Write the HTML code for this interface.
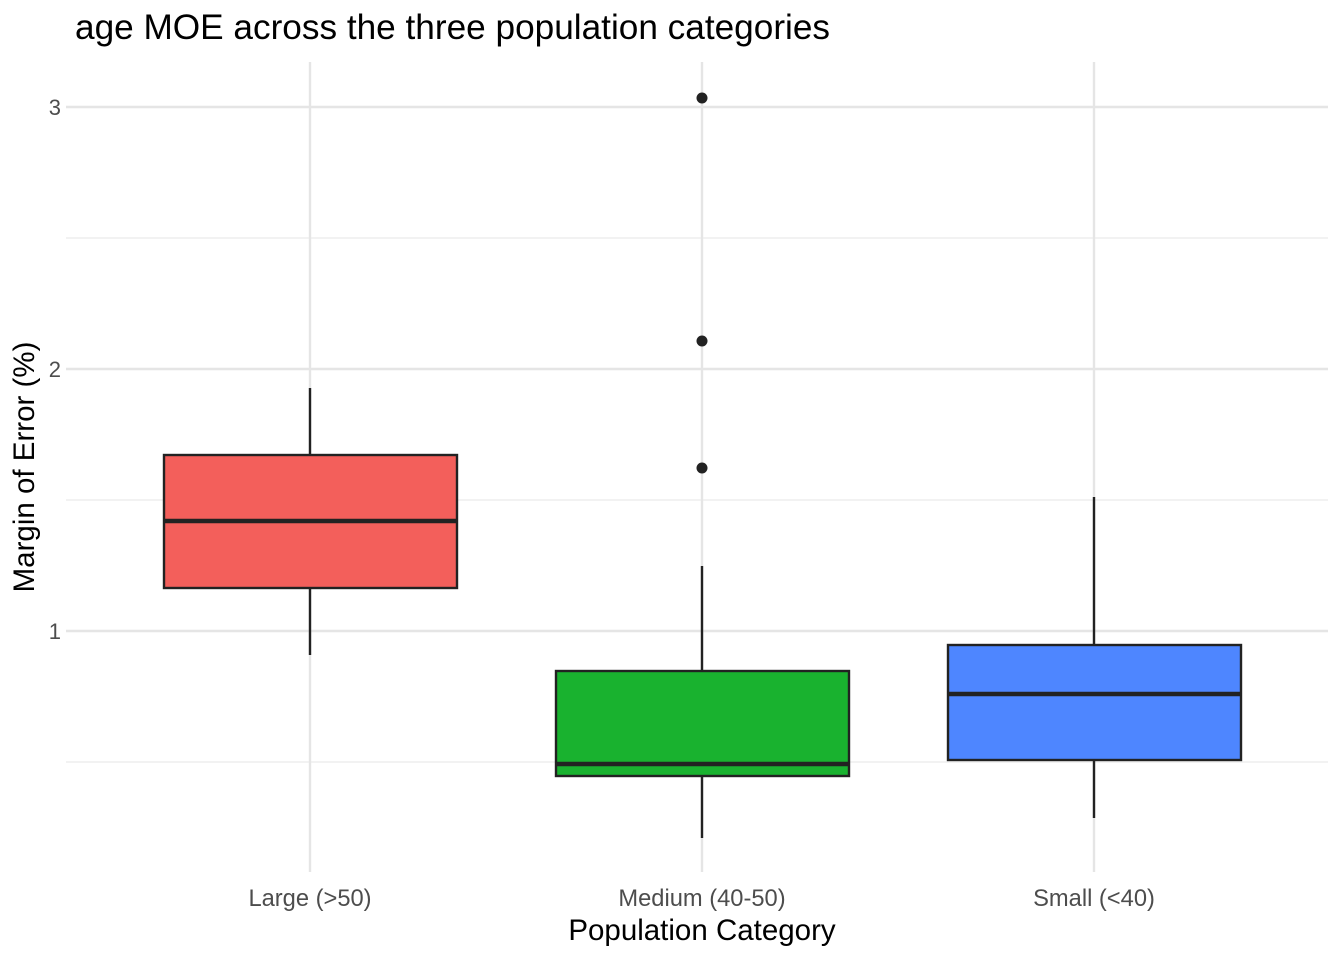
<!DOCTYPE html>
<html><head><meta charset="utf-8"><style>html,body{margin:0;padding:0;background:#fff}</style></head>
<body>
<svg width="1344" height="960" viewBox="0 0 1344 960" xmlns="http://www.w3.org/2000/svg" font-family="Liberation Sans, Arial, sans-serif">
<rect width="1344" height="960" fill="#fff"/>
<g stroke="#ebebeb" stroke-width="1.2">
<line x1="66" x2="1328" y1="238" y2="238"/>
<line x1="66" x2="1328" y1="500" y2="500"/>
<line x1="66" x2="1328" y1="762" y2="762"/>
</g>
<g stroke="#e5e5e5" stroke-width="2.4">
<line x1="66" x2="1328" y1="107" y2="107"/>
<line x1="66" x2="1328" y1="369" y2="369"/>
<line x1="66" x2="1328" y1="631" y2="631"/>
<line x1="310" x2="310" y1="62" y2="872"/>
<line x1="702" x2="702" y1="62" y2="872"/>
<line x1="1094" x2="1094" y1="62" y2="872"/>
</g>
<g stroke="#222" stroke-width="2.4">
<line x1="310" x2="310" y1="388" y2="655"/>
<rect x="164" y="455" width="293" height="133" fill="#F35F5B"/>
<line x1="164" x2="457" y1="521" y2="521" stroke-width="4.5"/>
<line x1="702" x2="702" y1="566" y2="838"/>
<rect x="556" y="671" width="293" height="105" fill="#19B22F"/>
<line x1="556" x2="849" y1="764" y2="764" stroke-width="4.5"/>
<line x1="1094" x2="1094" y1="497" y2="818"/>
<rect x="948" y="645" width="293" height="115" fill="#4E86FF"/>
<line x1="948" x2="1241" y1="694" y2="694" stroke-width="4.5"/>
</g>
<g fill="#222">
<circle cx="702" cy="98" r="5.5"/>
<circle cx="702" cy="341" r="5.5"/>
<circle cx="702" cy="468" r="5.5"/>
</g>
<g fill="#4d4d4d" font-size="22" text-anchor="end">
<text x="61" y="115">3</text>
<text x="61" y="377">2</text>
<text x="61" y="639">1</text>
</g>
<g fill="#4d4d4d" font-size="23.7" text-anchor="middle">
<text x="310" y="906">Large (&gt;50)</text>
<text x="702" y="906">Medium (40-50)</text>
<text x="1094" y="906">Small (&lt;40)</text>
</g>
<text x="702" y="940" font-size="29.5" text-anchor="middle" fill="#000">Population Category</text>
<text transform="translate(34,467) rotate(-90)" font-size="29.5" text-anchor="middle" fill="#000">Margin of Error (%)</text>
<text x="75" y="39" font-size="35.2" fill="#000">age MOE across the three population categories</text>
</svg>
</body></html>
